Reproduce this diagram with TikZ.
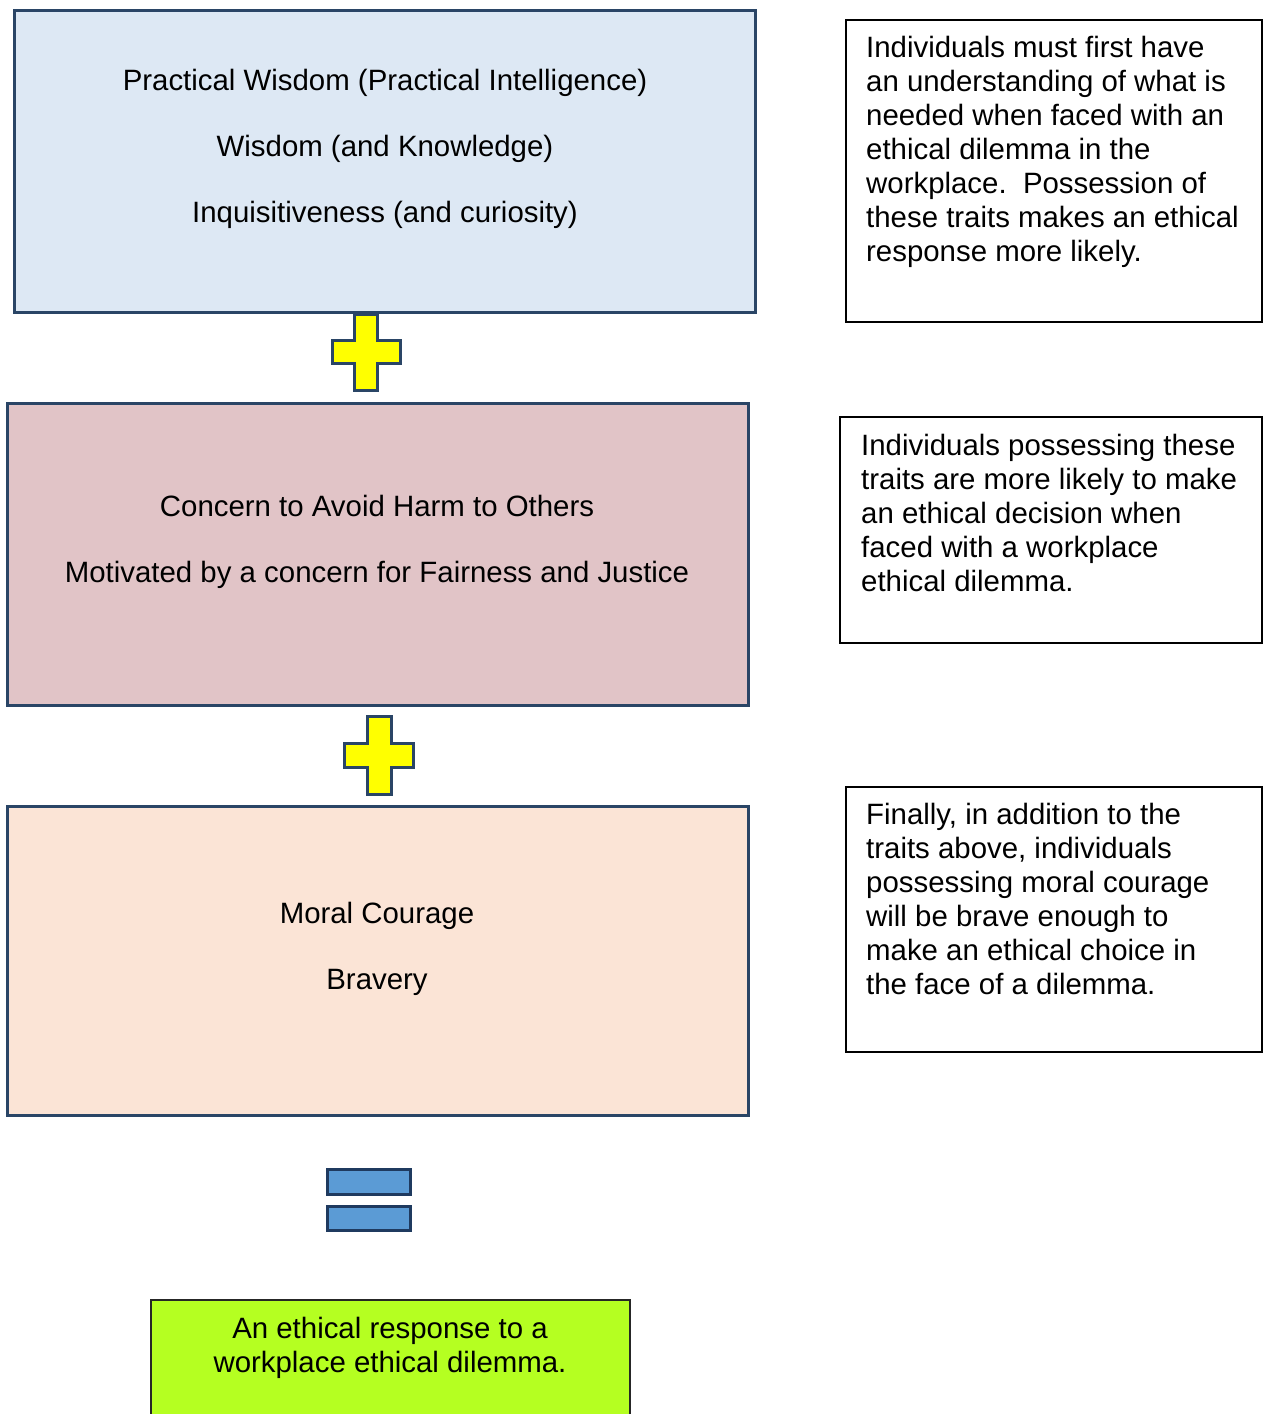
\documentclass[tikz,border=0pt]{standalone}
\usepackage{fontspec}
\setmainfont{Liberation Sans}
\definecolor{boxedge}{HTML}{2A4566}
\definecolor{wisdomfill}{HTML}{DDE8F4}
\definecolor{concernfill}{HTML}{E1C4C7}
\definecolor{couragefill}{HTML}{FBE4D6}
\definecolor{resultfill}{HTML}{B5FF21}
\definecolor{plusfill}{HTML}{FFFF00}
\definecolor{equalfill}{HTML}{5B9BD5}
\definecolor{equaledge}{HTML}{1F3A5F}
\tikzset{
  traitbox/.style={draw=boxedge, line width=3pt, rectangle, inner sep=0pt},
  notebox/.style={draw=black, line width=2.2pt, rectangle, inner sep=0pt, fill=white},
  resultbox/.style={draw=black!85, line width=2pt, fill=resultfill},
  plusshape/.style={draw=boxedge, line width=3pt, fill=plusfill},
  equalbar/.style={draw=equaledge, line width=3pt, fill=equalfill},
  traittext/.style={font=\fontsize{29.4}{66}\selectfont, align=center, anchor=base, inner sep=0pt},
  notetext/.style={font=\fontsize{29.4}{33.9}\selectfont, align=left, anchor=base west, inner sep=0pt},
  resulttext/.style={font=\fontsize{29.4}{33.9}\selectfont, align=center, anchor=base, inner sep=0pt}
}
\newcommand\plusmark[5]{% centre x, centre y, half arm width, half height, half width
  \draw[plusshape, shift={(#1,#2)}]
    (-#3,-#4) -- (#3,-#4) -- (#3,-#3) -- (#5,-#3) -- (#5,#3) -- (#3,#3) --
    (#3,#4) -- (-#3,#4) -- (-#3,#3) -- (-#5,#3) -- (-#5,-#3) -- (-#3,-#3) -- cycle;}
\begin{document}
\begin{tikzpicture}[x=1pt, y=-1pt]
\clip (0,0) rectangle (1264,1414);
\fill[white] (0,0) rectangle (1264,1414);

% trait boxes
\draw[traitbox, fill=wisdomfill] (14,10) rectangle (755,312);
\draw[traitbox, fill=concernfill] (7,403) rectangle (748,705);
\draw[traitbox, fill=couragefill] (7,806) rectangle (748,1115);

% multi-line texts are anchored on the baseline of their last line
\node[traittext] (wisdomtxt) at (385,222)
  {Practical Wisdom (Practical Intelligence)\\Wisdom (and Knowledge)\\Inquisitiveness (and curiosity)};
\node[traittext] (concerntxt) at (377,582)
  {Concern to Avoid Harm to Others\\Motivated by a concern for Fairness and Justice};
\node[traittext] (couragetxt) at (377,989)
  {Moral Courage\\Bravery};

% operators
\plusmark{366}{352}{11.5}{38}{34}
\plusmark{379}{755}{12}{39}{34.5}
\draw[equalbar] (327,1169) rectangle (410,1194);
\draw[equalbar] (327,1206) rectangle (410,1230);

% result
\draw[resultbox] (151,1300) rectangle (630,1440);
\node[resulttext] (resulttxt) at (390,1372)
  {An ethical response to a\\workplace ethical dilemma.};

% explanatory notes
\draw[notebox] (846,20) rectangle (1262,322);
\node[notetext] (noteA) at (866,261)
  {Individuals must first have\\an understanding of what is\\needed when faced with an\\ethical dilemma in the\\workplace.\ \ Possession of\\these traits makes an ethical\\response more likely.};
\draw[notebox] (840,417) rectangle (1262,643);
\node[notetext] (noteB) at (861,591)
  {Individuals possessing these\\traits are more likely to make\\an ethical decision when\\faced with a workplace\\ethical dilemma.};
\draw[notebox] (846,787) rectangle (1262,1052);
\node[notetext] (noteC) at (866,994)
  {Finally, in addition to the\\traits above, individuals\\possessing moral courage\\will be brave enough to\\make an ethical choice in\\the face of a dilemma.};
\end{tikzpicture}
\end{document}
